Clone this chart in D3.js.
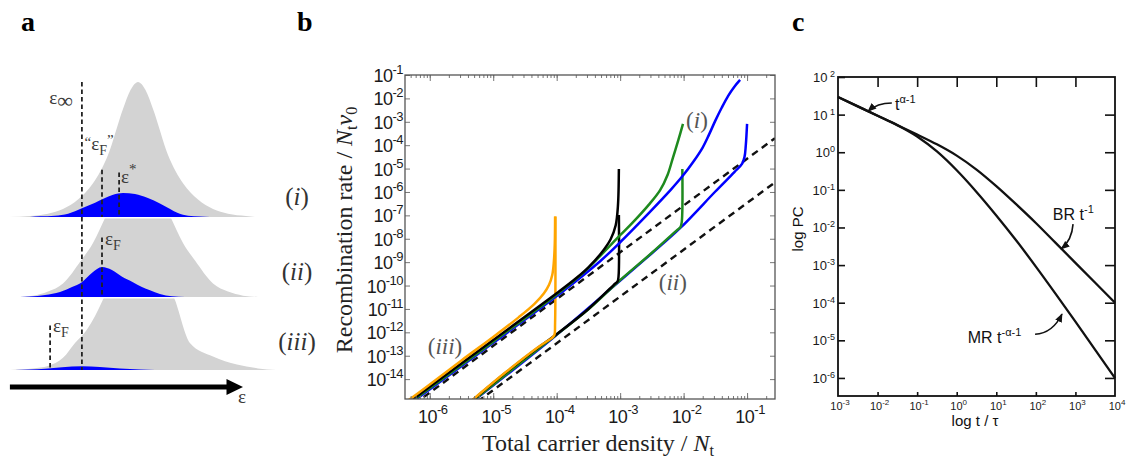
<!DOCTYPE html>
<meta charset="utf-8">
<script src="https://d3js.org/d3.v7.min.js"></script>
<body style="margin:0;background:#fff">
<svg width="1133" height="461"></svg>
<script>
// ---------- panel a : energy in arbitrary units, density relative to the DOS peak ----------
var rowLabels = ["i", "ii", "iii"];
var dosRowI = [[-4.3,0],[-3.6,0.008],[-3,0.025],[-2.5,0.06],[-2,0.13],[-1.5,0.25],[-1,0.46],[-0.5,0.8],[-0.25,0.94],[0,1],[0.25,0.94],[0.5,0.8],[1,0.46],[1.5,0.25],[2,0.13],[2.5,0.06],[3,0.025],[3.6,0.008],[3.9,0]];
var dosRowII = [[-4.1,0],[-3.5,0.01],[-3,0.04],[-2.5,0.1],[-1.9,0.27],[-1.5,0.4],[-1.1,0.585],[-0.5,0.9],[0,1],[0.5,0.9],[1.1,0.585],[1.5,0.4],[1.9,0.27],[2.5,0.1],[3,0.04],[3.5,0.01],[4,0]];
var dosRowIII = [[-4.5,0],[-3.5,0.012],[-3,0.03],[-2.5,0.09],[-2.1,0.2],[-1.7,0.3],[-1.17,0.52],[-0.6,0.85],[0,1],[0.6,0.85],[1.23,0.52],[1.73,0.2],[2.5,0.1],[3.3,0.04],[4,0.012],[4.6,0]];
var occRowI = [[-3.6,0],[-3.27,0.005],[-2.77,0.01],[-2.33,0.025],[-1.87,0.065],[-1.43,0.105],[-1.1,0.14],[-0.83,0.165],[-0.5,0.178],[-0.1,0.17],[0.33,0.14],[0.73,0.1],[1.07,0.06],[1.33,0.03],[1.67,0.01],[2.07,0.003],[2.4,0]];
var occRowII = [[-3.93,0],[-3.6,0.003],[-3.1,0.015],[-2.6,0.037],[-2.2,0.074],[-1.87,0.11],[-1.53,0.18],[-1.2,0.222],[-0.87,0.2],[-0.53,0.15],[-0.17,0.11],[0.13,0.074],[0.4,0.05],[0.73,0.022],[1.13,0.005],[1.57,0]];
var occRowIII = [[-4.1,0],[-3.6,0.004],[-3.1,0.01],[-2.53,0.02],[-1.87,0.028],[-1.27,0.022],[-0.6,0.012],[0.07,0.004],[0.57,0]];
// dashed energy levels: energy, row, top (density units of that row), last row reached
var levels = [
  {e: -1.87, row: 0, top: 1.0, toRow: 2},
  {e: -1.2, row: 0, top: 0.35, toRow: 0},
  {e: -0.63, row: 0, top: 0.33, toRow: 0},
  {e: -1.2, row: 1, top: 0.44, toRow: 1},
  {e: -2.93, row: 2, top: 0.33, toRow: 2}
];

// ---------- panel b : log10 of density and rate ----------
var densityDecades = [-6, -5, -4, -3, -2, -1];
var rateDecades = [-1, -2, -3, -4, -5, -6, -7, -8, -9, -10, -11, -12, -13, -14];
var dashUpper = [[-6.4, -15.38], [-0.56, -3.70]];
var dashLower = [[-5.4, -15.27], [-0.56, -5.59]];
var orangeUpper = [[-6.45,-15.13],[-6.0,-14.23],[-5.5,-13.2],[-5.0,-12.2],[-4.6,-11.36],[-4.35,-10.78],[-4.2,-10.33],[-4.12,-9.97],[-4.07,-9.55],[-4.045,-9.0],[-4.03,-8.2],[-4.025,-7.05]];
var blackUpper = [[-6.45,-15.23],[-6.0,-14.33],[-5.0,-12.33],[-4.0,-10.33],[-3.7,-9.7],[-3.5,-9.22],[-3.3,-8.62],[-3.15,-8.02],[-3.07,-7.42],[-3.035,-6.6],[-3.02,-5.02]];
var greenUpper = [[-6.45,-15.28],[-5.0,-12.4],[-4.0,-10.38],[-3.6,-9.5],[-3.32,-8.75],[-3.0,-7.85],[-2.8,-7.3],[-2.55,-6.55],[-2.37,-5.92],[-2.25,-5.25],[-2.17,-4.55],[-2.08,-3.75],[-2.01,-3.09]];
var blueUpper = [[-6.45,-15.33],[-5.0,-12.45],[-4.0,-10.45],[-3.32,-8.97],[-3.0,-8.15],[-2.53,-6.85],[-2.2,-5.9],[-2.01,-5.3],[-1.85,-4.72],[-1.7,-4.1],[-1.6,-3.55],[-1.5,-2.95],[-1.4,-2.4],[-1.3,-1.9],[-1.2,-1.5],[-1.11,-1.21]];
var orangeLower = [[-5.4,-15.06],[-4.8,-13.7],[-4.3,-12.65],[-4.06,-12.2],[-4.035,-12.1],[-4.025,-11.6],[-4.02,-7.05]];
var blackLower = [[-5.4,-15.08],[-4.8,-13.72],[-4.3,-12.67],[-4.06,-12.2],[-3.5,-11.0],[-3.1,-9.97],[-3.04,-9.82],[-3.025,-9.6],[-3.02,-6.98]];
var greenLower = [[-5.4,-15.1],[-4.06,-12.22],[-3.5,-11.02],[-3.03,-9.84],[-2.5,-8.6],[-2.1,-7.62],[-2.05,-7.5],[-2.03,-7.3],[-2.02,-5.02]];
var blueLower = [[-5.4,-15.12],[-4.06,-12.24],[-3.03,-9.86],[-2.5,-8.62],[-2.06,-7.56],[-1.5,-5.98],[-1.2,-5.15],[-1.08,-4.8],[-1.04,-4.5],[-1.02,-4.0],[-1.0,-3.09]];
var caseLabels = [{t: "i", n: -1.79, r: -2.92}, {t: "ii", n: -2.17, r: -9.85}, {t: "iii", n: -5.76, r: -12.58}];

// ---------- panel c : log10 of t/tau and PC ----------
var timeDecades = [-3, -2, -1, 0, 1, 2, 3, 4];
var pcDecades = [2, 1, 0, -1, -2, -3, -4, -5, -6];
var brCurve = [[-3,1.47],[-2.5,1.22],[-2,0.97],[-1.5,0.72],[-1,0.47],[-0.5,0.21],[0,-0.09],[0.5,-0.46],[1,-0.9],[1.5,-1.38],[2,-1.88],[2.5,-2.41],[3,-2.94],[3.5,-3.47],[4,-4.0]];
var mrCurve = [[-3,1.47],[-2.5,1.22],[-2,0.97],[-1.5,0.72],[-1,0.42],[-0.5,0.02],[0,-0.48],[0.5,-1.055],[1,-1.68],[1.5,-2.34],[2,-3.04],[2.5,-3.765],[3,-4.505],[3.5,-5.255],[4,-6.005]];
var notes = [
  {pre: "", base: "t", sup: "α-1", at: [-1.56, 1.12], from: [-1.64, 1.31], ctrl: [-2.01, 1.31], to: [-2.24, 1.09]},
  {pre: "BR ", base: "t", sup: "-1", at: [2.43, -1.81], from: [2.94, -1.91], ctrl: [2.91, -2.34], to: [2.64, -2.57]},
  {pre: "MR ", base: "t", sup: "-α-1", at: [0.28, -5.07], from: [1.98, -4.84], ctrl: [2.43, -4.81], to: [2.66, -4.30]}
];

var svg = d3.select("svg");
var defs = svg.append("defs");
var serif = "'Liberation Serif', 'DejaVu Serif', serif";
var sans = "'Liberation Sans', Arial, sans-serif";
var p10 = function (v) { return Math.pow(10, v); };

svg.append("rect").attr("width", 1133).attr("height", 461).attr("fill", "#fff");

// panel letters
var letters = ["a", "b", "c"], letterX = [21, 297, 792];
letters.forEach(function (l, i) {
  svg.append("text").attr("x", letterX[i]).attr("y", 31).text(l)
    .attr("font-family", serif).attr("font-weight", "bold").attr("font-size", 28);
});

// ================= panel a =================
var gA = svg.append("g");
var xA = d3.scaleLinear().domain([-4, 4]).range([18, 258]);
var rowBase = [217, 297, 370];
var yRow = rowBase.map(function (b) { return d3.scaleLinear().domain([0, 1]).range([b, b - 135]); });
var dosRows = [dosRowI, dosRowII, dosRowIII];
var occRows = [occRowI, occRowII, occRowIII];

rowBase.forEach(function (b, i) {
  if (i > 0) {
    defs.append("clipPath").attr("id", "row" + i).append("rect")
      .attr("x", 0).attr("y", rowBase[i - 1] + 1.5).attr("width", 320).attr("height", b - rowBase[i - 1]);
  }
});
function rowArea(i) {
  return d3.area().x(function (d) { return xA(d[0]); }).y0(yRow[i](0))
    .y1(function (d) { return yRow[i](d[1]); }).curve(d3.curveMonotoneX);
}
dosRows.forEach(function (rows, i) {
  var p = gA.append("path").attr("d", rowArea(i)(rows)).attr("fill", "#d3d3d3");
  if (i > 0) p.attr("clip-path", "url(#row" + i + ")");
});
occRows.forEach(function (rows, i) {
  gA.append("path").attr("d", rowArea(i)(rows)).attr("fill", "#0000ff");
});
levels.forEach(function (l) {
  gA.append("line").attr("x1", xA(l.e)).attr("x2", xA(l.e))
    .attr("y1", yRow[l.row](l.top)).attr("y2", yRow[l.toRow](0))
    .attr("stroke", "#222").attr("stroke-width", 1.8).attr("stroke-dasharray", "4.5,3");
});

var epsFont = 19, labCol = "#3a3a3a";
function aText(x, y) {
  return gA.append("text").attr("x", x).attr("y", y).attr("font-family", serif)
    .attr("font-size", epsFont).attr("fill", labCol);
}
// ε∞
var t0 = aText(xA(-2.17), yRow[0](0.84)).attr("text-anchor", "end");
t0.append("tspan").text("ε");
t0.append("tspan").text("∞").attr("dy", 4).attr("font-size", 22);
// “εF”
var t1 = aText(xA(-1.78), yRow[0](0.5));
t1.append("tspan").text("“").attr("font-size", 15).attr("dy", -3);
t1.append("tspan").text("ε").attr("dy", 3);
t1.append("tspan").text("F").attr("font-size", 14).attr("dy", 5);
t1.append("tspan").text("”").attr("font-size", 15).attr("dy", -10);
// ε*
var t2 = aText(xA(-0.57), yRow[0](0.25));
t2.append("tspan").text("ε");
t2.append("tspan").text("*").attr("font-size", 15).attr("dy", -9);
// εF rows ii and iii
[[1, -1.1, 0.385], [2, -2.83, 0.28]].forEach(function (r) {
  var t = aText(xA(r[1]), yRow[r[0]](r[2]));
  t.append("tspan").text("ε");
  t.append("tspan").text("F").attr("font-size", 14).attr("dy", 5);
});
// row numerals
rowLabels.forEach(function (lab, i) {
  var y = [197, 272, 342][i];
  var t = gA.append("text").attr("x", 297).attr("y", y + 8).attr("text-anchor", "middle")
    .attr("font-family", serif).attr("font-size", 25).attr("fill", "#333");
  t.append("tspan").text("(");
  t.append("tspan").text(lab).attr("font-style", "italic");
  t.append("tspan").text(")");
});
// energy arrow
var arrowY = 387;
gA.append("line").attr("x1", xA(-4.27)).attr("x2", xA(3.0)).attr("y1", arrowY).attr("y2", arrowY)
  .attr("stroke", "#000").attr("stroke-width", 5);
gA.append("path").attr("d", "M" + xA(2.95) + "," + (arrowY - 8) + "L" + xA(3.5) + "," + arrowY + "L" + xA(2.95) + "," + (arrowY + 8) + "Z")
  .attr("fill", "#000");
aText(xA(3.33), arrowY + 16).text("ε");

// ================= panel b =================
var gB = svg.append("g");
var xB = d3.scaleLog().domain([p10(-6.39), p10(-0.56)]).range([405, 775]);
var yB = d3.scaleLog().domain([p10(-14.85), p10(-1)]).range([399, 75]);
defs.append("clipPath").attr("id", "clipB").append("rect")
  .attr("x", 405).attr("y", 75).attr("width", 370).attr("height", 324);
var lineB = d3.line().x(function (d) { return xB(p10(d[0])); }).y(function (d) { return yB(p10(d[1])); })
  .curve(d3.curveCatmullRom.alpha(0.5));
var plotB = gB.append("g").attr("clip-path", "url(#clipB)");

[dashUpper, dashLower].forEach(function (d) {
  plotB.append("path").attr("d", d3.line().x(function (p) { return xB(p10(p[0])); }).y(function (p) { return yB(p10(p[1])); })(d))
    .attr("fill", "none").attr("stroke", "#111").attr("stroke-width", 2.4).attr("stroke-dasharray", "7,5");
});
var colB = {blue: "#0000ff", green: "#1e8a1e", black: "#000", orange: "#ffa500"};
[[blueLower, "blue"], [greenLower, "green"], [blackLower, "black"], [orangeLower, "orange"],
 [blueUpper, "blue"], [greenUpper, "green"], [blackUpper, "black"], [orangeUpper, "orange"]].forEach(function (c) {
  plotB.append("path").attr("d", lineB(c[0])).attr("fill", "none")
    .attr("stroke", colB[c[1]]).attr("stroke-width", 2.5).attr("stroke-linejoin", "round");
});

// ticks
var minorB = [];
for (var k = -7; k <= 0; k++) for (var m = 1; m < 10; m++) {
  var v = m * p10(k);
  if (v >= xB.domain()[0] && v <= xB.domain()[1]) minorB.push(v);
}
var noDomain = function (g) { g.select(".domain").remove(); g.selectAll("line").attr("stroke", "#777"); };
var majB = densityDecades.map(p10), majR = rateDecades.map(p10);
gB.append("g").attr("transform", "translate(0,399)").call(d3.axisBottom(xB).tickValues(minorB).tickSize(-3).tickFormat("")).call(noDomain);
gB.append("g").attr("transform", "translate(0,399)").call(d3.axisBottom(xB).tickValues(majB).tickSize(-6).tickFormat("")).call(noDomain);
gB.append("g").attr("transform", "translate(0,75)").call(d3.axisTop(xB).tickValues(minorB).tickSize(-3).tickFormat("")).call(noDomain);
gB.append("g").attr("transform", "translate(0,75)").call(d3.axisTop(xB).tickValues(majB).tickSize(-6).tickFormat("")).call(noDomain);
gB.append("g").attr("transform", "translate(405,0)").call(d3.axisLeft(yB).tickValues(majR).tickSize(-5).tickFormat("")).call(noDomain);
gB.append("g").attr("transform", "translate(775,0)").call(d3.axisRight(yB).tickValues(majR).tickSize(-5).tickFormat("")).call(noDomain);
gB.append("rect").attr("x", 405).attr("y", 75).attr("width", 370).attr("height", 324)
  .attr("fill", "none").attr("stroke", "#555").attr("stroke-width", 1.3);

function powLabel(g, x, y, exp, size, supSize, rise, anchor) {
  var t = g.append("text").attr("x", x).attr("y", y).attr("text-anchor", anchor)
    .attr("font-family", sans).attr("font-size", size).attr("fill", "#1a1a1a");
  t.append("tspan").text("10");
  t.append("tspan").text(exp).attr("font-size", supSize).attr("dy", -rise);
  return t;
}
densityDecades.forEach(function (d) {
  powLabel(gB, xB(p10(d)) + 3, 423, String(d), 18, 13, 9, "middle").attr("letter-spacing", -0.5);
});
rateDecades.forEach(function (d) {
  powLabel(gB, 403, yB(p10(d)) + 7, String(d), 18, 13, 8, "end").attr("letter-spacing", -0.5);
});
// axis titles
var yt = gB.append("text").attr("transform", "translate(352,230) rotate(-90)").attr("text-anchor", "middle")
  .attr("font-family", serif).attr("font-size", 24).attr("fill", "#222");
yt.append("tspan").text("Recombination rate / ");
yt.append("tspan").text("N").attr("font-style", "italic");
yt.append("tspan").text("t").attr("font-size", 16).attr("dy", 5);
yt.append("tspan").text("ν").attr("font-style", "italic").attr("dy", -5);
yt.append("tspan").text("0").attr("font-size", 16).attr("dy", 5);
var xt = gB.append("text").attr("x", 598).attr("y", 451).attr("text-anchor", "middle")
  .attr("font-family", serif).attr("font-size", 24).attr("fill", "#222");
xt.append("tspan").text("Total carrier density / ");
xt.append("tspan").text("N").attr("font-style", "italic");
xt.append("tspan").text("t").attr("font-size", 16).attr("dy", 5);
caseLabels.forEach(function (c) {
  var t = gB.append("text").attr("x", xB(p10(c.n))).attr("y", yB(p10(c.r)) + 8).attr("text-anchor", "middle")
    .attr("font-family", serif).attr("font-size", 23).attr("fill", "#555");
  t.append("tspan").text("(");
  t.append("tspan").text(c.t).attr("font-style", "italic");
  t.append("tspan").text(")");
});

// ================= panel c =================
var gC = svg.append("g");
var xC = d3.scaleLog().domain([1e-3, 1e4]).range([838, 1115]);
var yC = d3.scaleLog().domain([p10(-6.48), 100]).range([396, 77]);
var px = function (d) { return xC(p10(d[0])); }, py = function (d) { return yC(p10(d[1])); };
var lineC = d3.line().x(px).y(py).curve(d3.curveMonotoneX);
[brCurve, mrCurve].forEach(function (c) {
  gC.append("path").attr("d", lineC(c)).attr("fill", "none").attr("stroke", "#111").attr("stroke-width", 2.3);
});
var inner = timeDecades.slice(1, -1).map(p10);
var blackTicks = function (g) { g.select(".domain").remove(); g.selectAll("line").attr("stroke", "#111").attr("stroke-width", 1.6); };
gC.append("g").attr("transform", "translate(0,77)").call(d3.axisTop(xC).tickValues(inner).tickSize(-10).tickFormat("")).call(blackTicks);
gC.append("g").attr("transform", "translate(0,396)").call(d3.axisBottom(xC).tickValues(inner).tickSize(-4).tickFormat("")).call(blackTicks);
gC.append("g").attr("transform", "translate(838,0)").call(d3.axisLeft(yC).tickValues(pcDecades.map(p10)).tickSize(-7).tickFormat("")).call(blackTicks);
gC.append("g").attr("transform", "translate(1115,0)").call(d3.axisRight(yC).tickValues(pcDecades.slice(1).map(p10)).tickSize(-10).tickFormat("")).call(blackTicks);
gC.append("rect").attr("x", 838).attr("y", 77).attr("width", 277).attr("height", 319)
  .attr("fill", "none").attr("stroke", "#111").attr("stroke-width", 1.8);
pcDecades.forEach(function (d) {
  powLabel(gC, 835, yC(p10(d)) + 5, (d > 0 ? " " : "") + String(d), 13, 9, 5, "end");
});
timeDecades.forEach(function (d) {
  powLabel(gC, xC(p10(d)) + 2, 410, String(d), 11, 8, 5, "middle");
});
gC.append("text").attr("x", 975).attr("y", 426).attr("text-anchor", "middle")
  .attr("font-family", sans).attr("font-size", 15).attr("fill", "#111").text("log t / τ");
gC.append("text").attr("transform", "translate(803,229) rotate(-90)").attr("text-anchor", "middle")
  .attr("font-family", sans).attr("font-size", 15).attr("fill", "#111").text("log PC");

defs.append("marker").attr("id", "ah").attr("viewBox", "0 0 10 10").attr("refX", 9).attr("refY", 5)
  .attr("markerWidth", 9).attr("markerHeight", 9).attr("markerUnits", "userSpaceOnUse").attr("orient", "auto")
  .append("path").attr("d", "M0,1L10,5L0,9Z").attr("fill", "#111");
notes.forEach(function (n) {
  var t = gC.append("text").attr("x", px(n.at)).attr("y", py(n.at))
    .attr("font-family", sans).attr("font-size", 16).attr("fill", "#111");
  if (n.pre) t.append("tspan").text(n.pre);
  t.append("tspan").text(n.base);
  t.append("tspan").text(n.sup).attr("font-size", 11).attr("dy", -7);
  var p = d3.path();
  p.moveTo(px(n.from), py(n.from));
  p.quadraticCurveTo(px(n.ctrl), py(n.ctrl), px(n.to), py(n.to));
  gC.append("path").attr("d", p.toString()).attr("fill", "none").attr("stroke", "#111")
    .attr("stroke-width", 1.6).attr("marker-end", "url(#ah)");
});
</script>
</body>
